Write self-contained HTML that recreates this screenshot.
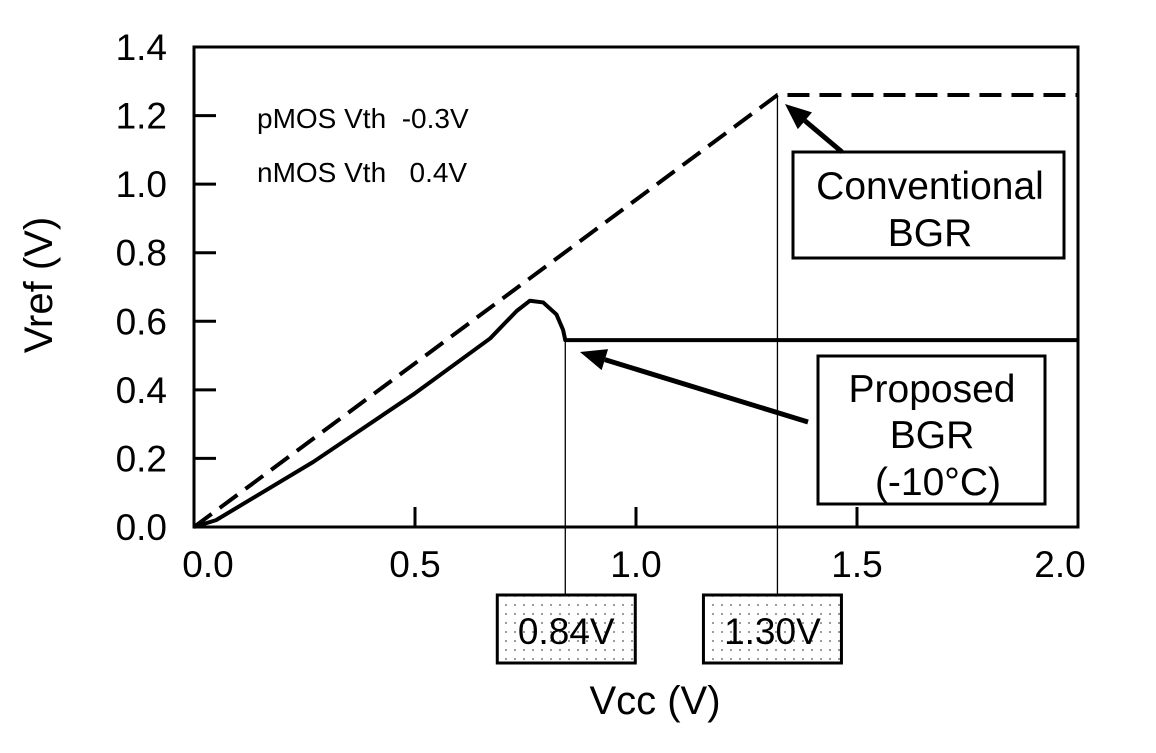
<!DOCTYPE html>
<html><head><meta charset="utf-8"><style>
html,body{margin:0;padding:0;background:#fff;}
svg{display:block;font-family:"Liberation Sans",Arial,sans-serif;}
</style></head><body>
<svg id="chart" width="1156" height="753" viewBox="0 0 1156 753">
<defs>
<pattern id="dots" width="9" height="9" patternUnits="userSpaceOnUse"><rect width="9" height="9" fill="#fff"/><circle cx="2" cy="2" r="0.9" fill="#555"/></pattern>
</defs>
<g id="axes"></g>
<g id="series"></g>
<g id="ann"></g>
</svg>
<script>
const xTicks=[0,0.5,1.0,1.5,2.0];
const xTickLabels=["0.0","0.5","1.0","1.5","2.0"];
const yTicks=[0,0.2,0.4,0.6,0.8,1.0,1.2,1.4];
const yTickLabels=["0.0","0.2","0.4","0.6","0.8","1.0","1.2","1.4"];
const convX=[0,1.32,2.0];
const convY=[0,1.26,1.26];
const propX=[0,0.05,0.27,0.5,0.67,0.73,0.76,0.79,0.82,0.835,0.84,2.0];
const propY=[0,0.02,0.19,0.39,0.55,0.63,0.66,0.655,0.62,0.575,0.545,0.545];
const markerX=[0.84,1.32];
const markerY=[0.545,1.26];
const markerLabels=["0.84V","1.30V"];

const X0=194,X1=1078,Y0=527,Y1=47;
const sx=v=>X0+(v-0)/(2.0-0)*(X1-X0);
const sy=v=>Y0-(v-0)/(1.4-0)*(Y0-Y1);
const NS="http://www.w3.org/2000/svg";
function mk(tag,attrs,parent,text){const e=document.createElementNS(NS,tag);for(const k in attrs)e.setAttribute(k,attrs[k]);if(text!==undefined)e.textContent=text;parent.appendChild(e);return e;}
const axes=document.getElementById('axes'),series=document.getElementById('series'),ann=document.getElementById('ann');

markerX.forEach((m,i)=>{
  const l=mk('line',{x1:sx(m),x2:sx(m),y1:sy(markerY[i]),y2:595,stroke:'#000','stroke-width':1.3},ann);
  
  
  const cx=sx(m)-i*6;
  const b=mk('rect',{x:cx-68,y:595,width:138,height:68,fill:'url(#dots)',stroke:'#000','stroke-width':3},ann);
  
  
  const t=mk('text',{x:cx+1,y:644,'font-size':37,'text-anchor':'middle'},ann,markerLabels[i]);
  
  
});

const fr=mk('rect',{x:X0,y:Y1,width:X1-X0,height:Y0-Y1,fill:'none',stroke:'#000','stroke-width':3},axes);


xTicks.forEach((v,i)=>{
  if(v>0&&v<2){const t=mk('line',{x1:sx(v),x2:sx(v),y1:Y0,y2:Y0-20,stroke:'#000','stroke-width':3},axes);
  
  }
  const l=mk('text',{x:sx(v)+(i==0?14:i==4?-18:0),y:Y0+50,'font-size':37,'text-anchor':'middle'},axes,xTickLabels[i]);
  
  
});
yTicks.forEach((v,i)=>{
  if(v>0&&v<1.4){const t=mk('line',{x1:X0,x2:X0+22,y1:sy(v),y2:sy(v),stroke:'#000','stroke-width':3},axes);
  
  }
  const l=mk('text',{x:167,y:sy(v)+13,'font-size':37,'text-anchor':'end'},axes,yTickLabels[i]);
  
  
});
const yt=mk('text',{x:0,y:0,'font-size':40,'text-anchor':'middle',transform:'translate(52,285) rotate(-90)'},axes,'Vref (V)');


const xt=mk('text',{x:655,y:714,'font-size':40,'text-anchor':'middle'},axes,'Vcc (V)');



const cp=mk('polyline',{points:convX.map((x,i)=>sx(x)+','+sy(convY[i])).join(' '),fill:'none',stroke:'#000','stroke-width':4,'stroke-dasharray':'22,10'},series);


const pp=mk('polyline',{points:propX.map((x,i)=>sx(x)+','+sy(propY[i])).join(' '),fill:'none',stroke:'#000','stroke-width':4,'stroke-linejoin':'round'},series);



const t1=mk('text',{x:257,y:128,'font-size':28},ann,'pMOS Vth  -0.3V');


const t2=mk('text',{x:257,y:182,'font-size':28},ann,'nMOS Vth   0.4V');


t1.style.whiteSpace='pre';t2.style.whiteSpace='pre';

const cb=mk('rect',{x:793,y:152,width:271,height:106,fill:'#fff',stroke:'#000','stroke-width':3},ann);


const ct=mk('text',{x:930,y:199,'font-size':39,'text-anchor':'middle'},ann,'Conventional');


const ct2=mk('text',{x:930,y:246,'font-size':39,'text-anchor':'middle'},ann,'BGR');



const pb=mk('rect',{x:818,y:356,width:227,height:148,fill:'#fff',stroke:'#000','stroke-width':3},ann);


[['Proposed',402,932],['BGR',448,932],['(-10\u00B0C)',495,938]].forEach(([s,y,x])=>{
  const t=mk('text',{x:x,y:y,'font-size':39,'text-anchor':'middle'},ann,s);
  
  
});

function arrow(x1,y1,x2,y2,name){
  const a=Math.atan2(y2-y1,x2-x1),L=26,W=11;
  const bx=x2-L*Math.cos(a),by=y2-L*Math.sin(a);
  const g=mk('g',{},ann);
  
  
  mk('line',{x1:x1,y1:y1,x2:bx,y2:by,stroke:'#000','stroke-width':5},g);
  mk('polygon',{points:`${x2},${y2} ${bx+W*Math.sin(a)},${by-W*Math.cos(a)} ${bx-W*Math.sin(a)},${by+W*Math.cos(a)}`,fill:'#000'},g);
}
arrow(842,152,785,104,'conventional-arrow');
arrow(808,422,580,352,'proposed-arrow');
</script>
</body></html>
